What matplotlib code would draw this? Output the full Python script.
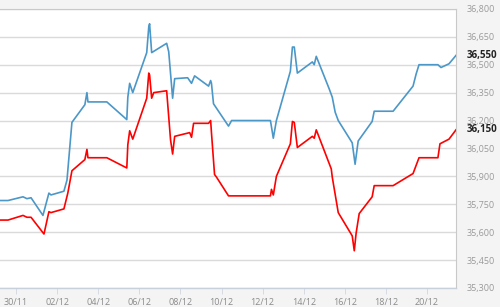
import matplotlib.pyplot as plt
from matplotlib.ticker import FixedLocator, FuncFormatter

# x is days since 30/11 (fractional, intraday)
blue_x = [-0.78, -0.39, 0.34, 0.53, 0.73, 1.31, 1.60, 1.70, 2.33, 2.48, 2.72, 3.35, 3.45, 3.50,
          4.42, 5.39, 5.44, 5.53, 5.68, 6.36, 6.46, 6.50, 6.60, 7.33, 7.43, 7.62, 7.72, 8.35,
          8.54, 8.69, 9.37, 9.47, 9.51, 9.61, 10.34, 10.49, 12.38, 12.52, 12.67, 13.35, 13.45,
          13.54, 13.69, 14.42, 14.51, 14.61, 15.24, 15.39, 15.53, 15.68, 16.36, 16.50, 16.65,
          17.33, 17.43, 18.35, 19.32, 19.47, 19.61, 20.53, 20.68, 21.07, 21.41]
blue_y = [35770, 35770, 35790, 35780, 35785, 35690, 35810, 35800, 35820, 35880, 36190, 36285, 36350, 36300,
          36300, 36205, 36325, 36400, 36350, 36565, 36705, 36720, 36565, 36615, 36570, 36320, 36425, 36430,
          36400, 36440, 36385, 36415, 36400, 36290, 36170, 36200, 36200, 36105, 36200, 36465, 36595,
          36595, 36455, 36515, 36500, 36545, 36370, 36325, 36245, 36200, 36080, 35965, 36090,
          36195, 36250, 36250, 36385, 36450, 36500, 36500, 36485, 36505, 36550]

red_x = [-0.78, -0.39, 0.34, 0.53, 0.73, 1.36, 1.60, 1.70, 2.33, 2.52, 2.72, 3.35, 3.45, 3.50,
         4.42, 5.39, 5.44, 5.53, 5.68, 6.36, 6.46, 6.50, 6.60, 6.70, 7.33, 7.52, 7.62, 7.72,
         8.45, 8.54, 8.64, 9.37, 9.47, 9.51, 9.66, 9.76, 10.34, 12.38, 12.43, 12.52, 12.67,
         13.35, 13.45, 13.54, 13.69, 14.42, 14.51, 14.61, 15.34, 15.39, 15.68, 16.36, 16.46,
         16.55, 16.70, 17.33, 17.43, 18.35, 19.32, 19.61, 20.53, 20.63, 21.07, 21.41]
red_y = [35665, 35665, 35690, 35680, 35680, 35590, 35710, 35705, 35725, 35810, 35930, 35990, 36045, 36000,
         36000, 35945, 36070, 36145, 36100, 36320, 36455, 36445, 36320, 36350, 36360, 36095, 36020, 36115,
         36135, 36110, 36185, 36185, 36200, 36135, 35910, 35895, 35795, 35795, 35830, 35800, 35900,
         36075, 36195, 36190, 36055, 36115, 36105, 36150, 35940, 35895, 35705, 35580, 35500,
         35595, 35700, 35790, 35850, 35850, 35915, 36000, 36000, 36075, 36100, 36150]

x_ticks = [0, 2, 4, 6, 8, 10, 12, 14, 16, 18, 20]
x_labels = ['30/11', '02/12', '04/12', '06/12', '08/12', '10/12',
            '12/12', '14/12', '16/12', '18/12', '20/12']
y_ticks = [35300, 35450, 35600, 35750, 35900, 36050, 36200, 36350, 36500, 36650, 36800]
last_labels = [36550, 36150]

plt.rcParams['font.family'] = ['Open Sans', 'DejaVu Sans']

fig = plt.figure(figsize=(5, 3.07), dpi=100, facecolor='#f4f4f4')
ax = fig.add_axes([0.0, 0.062, 0.912, 0.909])
ax.set_facecolor('white')

ax.plot(blue_x, blue_y, color='#4b97c8', lw=1.2, zorder=3)
ax.plot(red_x, red_y, color='#ff0000', lw=1.2, zorder=3)

ax.set_xlim(-0.78, 21.41)
ax.set_ylim(35300, 36800)

ax.set_xticks(x_ticks)
ax.set_xticklabels(x_labels)
ax.yaxis.set_major_locator(FixedLocator(y_ticks))
ax.yaxis.set_major_formatter(FuncFormatter(lambda v, p: f'{int(v):,}'))
ax.yaxis.tick_right()
ax.grid(axis='y', color='#dadada', lw=1.0)
ax.set_axisbelow(True)

ax.tick_params(axis='y', length=0, pad=8, labelsize=6.5, labelcolor='#9a9a9a')
ax.tick_params(axis='x', length=4, width=0.6, color='#cfd6e0', pad=3,
               labelsize=6.5, labelcolor='#8a8a8a')

for s in ['top', 'right']:
    ax.spines[s].set_color('#c9c9c9')
    ax.spines[s].set_linewidth(0.8)
ax.spines['left'].set_visible(False)
ax.spines['bottom'].set_color('#c8d0dc')
ax.spines['bottom'].set_linewidth(1.0)

# last-value labels on the right axis
for v in last_labels:
    ax.annotate(f'{v:,}', xy=(1, v), xycoords=('axes fraction', 'data'),
                xytext=(8, 0), textcoords='offset points', va='center', ha='left',
                fontsize=7, fontweight='bold', color='#222222')

fig.savefig('out.png', dpi=100, facecolor=fig.get_facecolor())
